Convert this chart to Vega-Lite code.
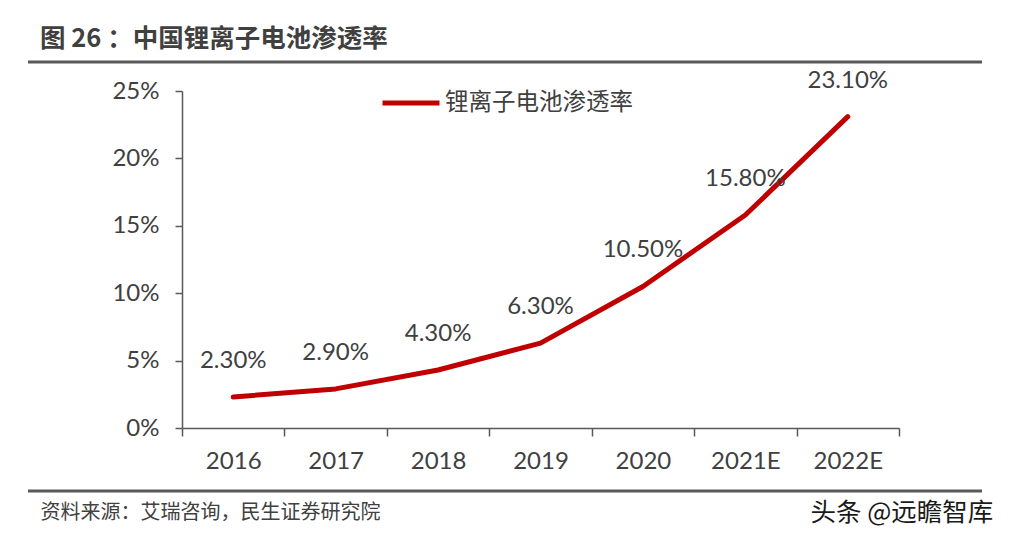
{
  "$schema": "https://vega.github.io/schema/vega-lite/v6.json",
  "width": 717,
  "height": 337,
  "autosize": "none",
  "padding": {"left": 182, "top": 91, "right": 111, "bottom": 111},
  "background": "white",
  "config": {"view": {"stroke": null}, "font": "Noto Sans CJK SC"},
  "title": {
    "text": "图 26 ：中国锂离子电池渗透率",
    "anchor": "start",
    "frame": "group",
    "dx": -142,
    "offset": 8,
    "fontSize": 25.5,
    "fontWeight": "bold",
    "color": "#404040",
    "font": "Noto Sans CJK SC"
  },
  "data": {
    "values": [
      {"year": "2016", "v": 0.023, "s": "锂离子电池渗透率"},
      {"year": "2017", "v": 0.029, "s": "锂离子电池渗透率"},
      {"year": "2018", "v": 0.043, "s": "锂离子电池渗透率"},
      {"year": "2019", "v": 0.063, "s": "锂离子电池渗透率"},
      {"year": "2020", "v": 0.105, "s": "锂离子电池渗透率"},
      {"year": "2021E", "v": 0.158, "s": "锂离子电池渗透率"},
      {"year": "2022E", "v": 0.231, "s": "锂离子电池渗透率"}
    ]
  },
  "encoding": {
    "x": {
      "field": "year",
      "type": "ordinal",
      "sort": null,
      "scale": {"type": "band", "paddingInner": 0, "paddingOuter": 0},
      "axis": {
        "title": "资料来源：艾瑞咨询，民生证券研究院",
        "titleAnchor": "start",
        "titleAlign": "left",
        "titleX": -142,
        "titleY": 84,
        "titleBaseline": "middle",
        "titleFontSize": 20,
        "titleFontWeight": "normal",
        "titleColor": "#404040",
        "titleFont": "Noto Sans CJK SC",
        "labelAngle": 0,
        "labelFont": "Lato",
        "labelFontSize": 24,
        "labelColor": "#404040",
        "labelPadding": 13,
        "tickBand": "extent",
        "tickSize": 8,
        "tickColor": "#595959",
        "tickWidth": 1.5,
        "domainColor": "#595959",
        "domainWidth": 1.5
      }
    },
    "y": {
      "field": "v",
      "type": "quantitative",
      "scale": {"domain": [0, 0.25], "nice": false, "zero": true},
      "axis": {
        "values": [0, 0.05, 0.1, 0.15, 0.2, 0.25],
        "format": ".0%",
        "grid": false,
        "title": "头条 @远瞻智库",
        "titleAngle": 0,
        "titleX": 628,
        "titleY": 421,
        "titleAlign": "left",
        "titleBaseline": "middle",
        "titleFontSize": 25.5,
        "titleFontWeight": "normal",
        "titleColor": "#1a1a1a",
        "titleFont": "Noto Sans CJK SC",
        "labelFont": "Lato",
        "labelFontSize": 24,
        "labelColor": "#404040",
        "labelPadding": 16,
        "tickSize": 7,
        "tickColor": "#595959",
        "tickWidth": 1.5,
        "domainColor": "#595959",
        "domainWidth": 1.5
      }
    }
  },
  "layer": [
    {
      "mark": {"type": "line", "strokeWidth": 5, "strokeCap": "round", "strokeJoin": "round"},
      "encoding": {
        "color": {
          "field": "s",
          "type": "nominal",
          "scale": {"range": ["#C00000"]},
          "legend": {
            "title": null,
            "orient": "none",
            "legendX": 198,
            "legendY": -19,
            "symbolType": "stroke",
            "symbolSize": 3249,
            "symbolStrokeWidth": 5,
            "labelFont": "Noto Sans CJK SC",
            "labelFontSize": 23.5,
            "labelLimit": 400,
            "labelColor": "#404040",
            "labelOffset": 3
          }
        }
      }
    },
    {
      "mark": {"type": "text", "dy": -36, "fontSize": 24, "font": "Lato", "color": "#404040", "baseline": "middle"},
      "encoding": {"text": {"field": "v", "type": "quantitative", "format": ".2%"}}
    },
    {
      "data": {"values": [{"pos": "top"}]},
      "mark": {"type": "rule", "color": "#595959", "strokeWidth": 3},
      "encoding": {"x": {"value": -154}, "x2": {"value": 800}, "y": {"value": -29}}
    },
    {
      "data": {"values": [{"pos": "bottom"}]},
      "mark": {"type": "rule", "color": "#595959", "strokeWidth": 3},
      "encoding": {"x": {"value": -154}, "x2": {"value": 800}, "y": {"value": 400}}
    }
  ]
}
